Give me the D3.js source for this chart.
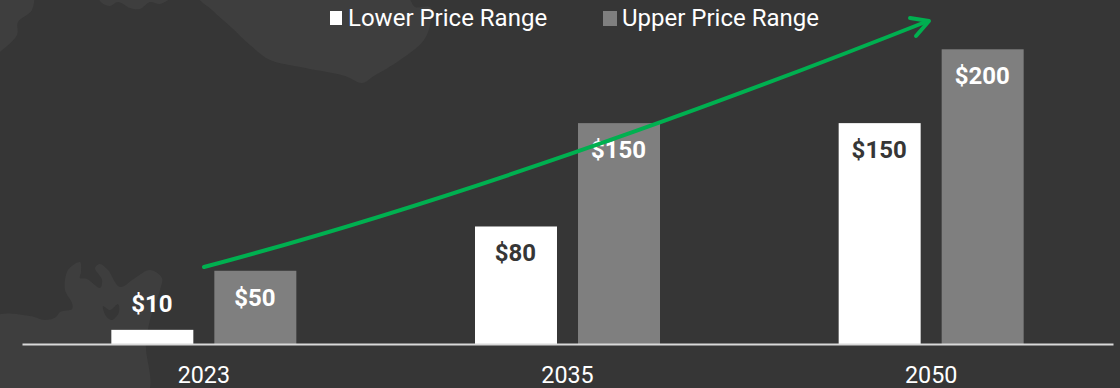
<!DOCTYPE html>
<html>
<head>
    <script src="https://d3js.org/d3.v7.min.js"></script>
    <style>
        html, body {
            margin: 0;
            background-color: #363636;
        }
        svg {
            display: block;
            font-family: Roboto, sans-serif;
        }
    </style>
</head>
<body>
    <script>
        const years = ['2023', '2035', '2050'];
        const seriesNames = ['Lower Price Range', 'Upper Price Range'];
        const lowerPrice = [10, 80, 150];
        const upperPrice = [50, 150, 200];

        const width = 1120;
        const height = 388;
        const colors = ['#ffffff', '#7f7f7f'];

        const svg = d3.select('body').append('svg')
            .attr('width', width)
            .attr('height', height);

        svg.append('rect')
            .attr('width', width)
            .attr('height', height)
            .attr('fill', '#363636');

        // faint world map behind the chart
        const mapShapes = [
            [[-8, -8], [32, -8], [32, 10], [18, 22], [17, 35], [0, 52], [-8, 58]],
            [[98, -4], [102, 3], [110, 6], [118, 2], [130, 8], [140, 9], [150, 2], [160, 4], [172, -4]],
            [[198, -4], [212, 10], [232, 28], [250, 45], [270, 60], [300, 67], [345, 76], [362, 83], [374, 76], [400, 60], [424, 40], [431, 20], [430, 7], [415, 7], [406, -4]],
            [[-8, 318], [30, 316], [45, 320], [56, 317], [60, 312], [72, 309], [72, 303], [65, 290], [68, 270], [80, 262], [81, 272], [80, 278], [87, 279], [100, 288], [102, 280], [95, 268], [100, 264], [108, 270], [120, 287], [135, 278], [150, 270], [162, 278], [160, 290], [150, 320], [146, 345], [146, 396], [-8, 396]]
        ];
        const mapLine = d3.line().curve(d3.curveCatmullRomClosed.alpha(0.5));
        const mapLake = [[103, 306], [110, 310], [118, 304], [119, 312], [112, 320], [106, 316]];

        svg.append('g')
            .selectAll('path')
            .data(mapShapes)
            .enter().append('path')
            .attr('d', d => mapLine(d))
            .attr('fill', '#3e3e3e');

        svg.append('path')
            .attr('d', mapLine(mapLake))
            .attr('fill', '#363636');

        const x = d3.scaleBand()
            .domain(years)
            .range([22, 1113]);

        const inner = d3.scaleBand()
            .domain(seriesNames)
            .range([0, 185])
            .paddingInner(0.204);

        const y = d3.scaleLinear()
            .domain([0, 200])
            .range([344.6, 49.3]);

        const rows = years.flatMap((year, i) => [
            { year, series: seriesNames[0], value: lowerPrice[i] },
            { year, series: seriesNames[1], value: upperPrice[i] }
        ]);
        const color = d3.scaleOrdinal(seriesNames, colors);
        const groupLeft = d => x(d.year) + (x.bandwidth() - 185) / 2 + inner(d.series);

        svg.append('g')
            .selectAll('rect')
            .data(rows)
            .enter().append('rect')
            .attr('x', groupLeft)
            .attr('y', d => y(d.value))
            .attr('width', inner.bandwidth())
            .attr('height', d => y(0) - y(d.value))
            .attr('fill', d => color(d.series));

        const axis = svg.append('g')
            .attr('transform', 'translate(0,344)')
            .call(d3.axisBottom(x).tickSize(0).tickPadding(22));
        axis.select('.domain')
            .attr('stroke', '#d9d9d9')
            .attr('stroke-width', 2);
        axis.selectAll('text')
            .attr('fill', '#ffffff')
            .style('font', '400 23.3px Roboto, sans-serif');

        // value labels: above the $10 bar, inside all the others
        svg.append('g')
            .selectAll('text')
            .data(rows)
            .enter().append('text')
            .attr('x', d => groupLeft(d) + inner.bandwidth() / 2 - 0.5)
            .attr('y', d => d.value === 10 ? y(d.value) - 17.5 : y(d.value) + 35)
            .attr('text-anchor', 'middle')
            .attr('fill', d => d.value === 10 || d.series === seriesNames[1] ? '#ffffff' : '#363636')
            .style('font', '700 24px Roboto, sans-serif')
            .text(d => '$' + d.value);

        // legend
        const legendX = [330, 603];
        const legend = svg.append('g')
            .selectAll('g')
            .data(seriesNames)
            .enter().append('g')
            .attr('transform', (d, i) => `translate(${legendX[i]},0)`);
        legend.append('rect')
            .attr('y', 11)
            .attr('width', (d, i) => 12 + i * 2)
            .attr('height', (d, i) => 14 + i)
            .attr('fill', d => color(d));
        legend.append('text')
            .attr('x', (d, i) => 18 + i)
            .attr('y', 26)
            .attr('fill', '#ffffff')
            .style('font', '400 24px Roboto, sans-serif')
            .text(d => d);

        // green trend arrow
        const arrow = svg.append('g')
            .attr('fill', 'none')
            .attr('stroke', '#00b050')
            .attr('stroke-width', 4)
            .attr('stroke-linecap', 'round')
            .attr('stroke-linejoin', 'round');
        arrow.append('path')
            .attr('d', 'M204,267C400,215 640,135 928,21');
        arrow.append('path')
            .attr('d', 'M910,18L929,21L916,36');
    </script>
</body>
</html>
